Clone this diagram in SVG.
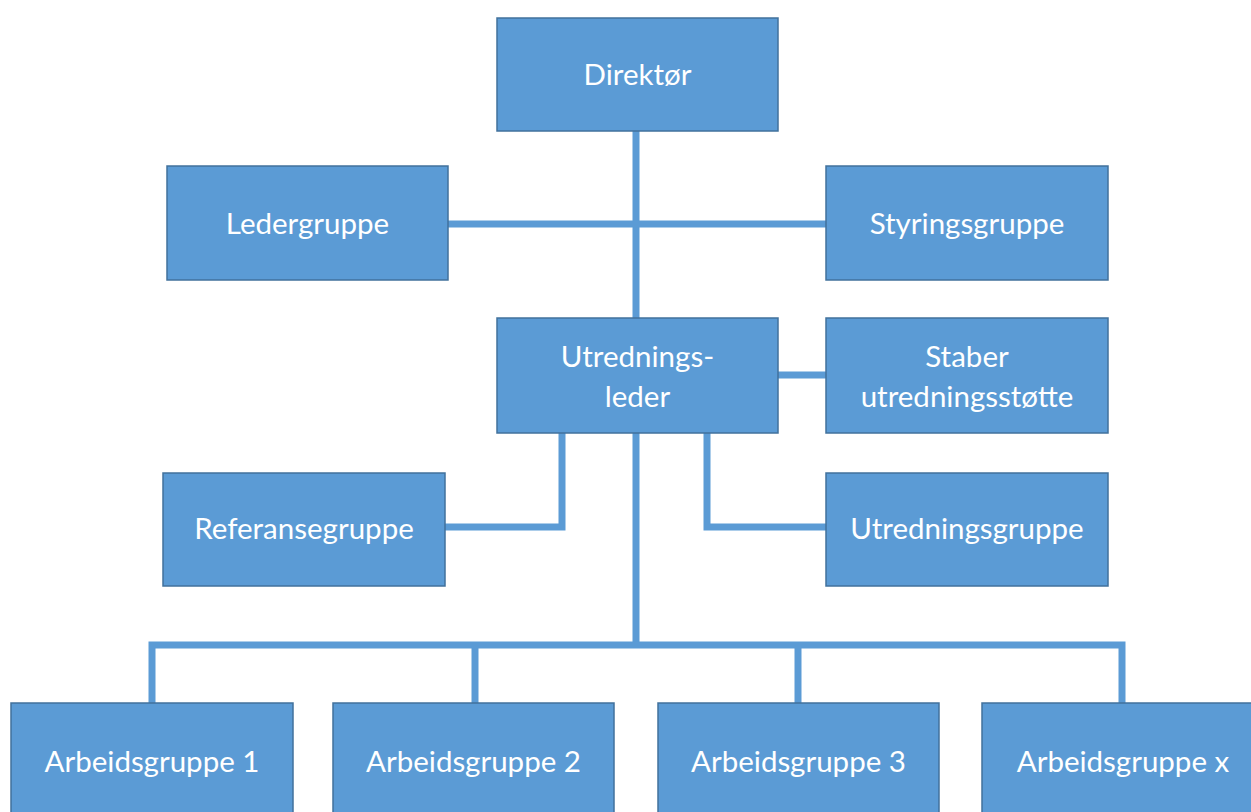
<svg xmlns="http://www.w3.org/2000/svg" width="1251" height="812" viewBox="0 0 1251 812">
<style>
.box{fill:#5B9BD5;stroke:#41719C;stroke-width:1.5}
.lbl{fill:#FFFFFF;font-family:Lato,"Open Sans",sans-serif;font-size:29.5px;text-anchor:middle}
.con{fill:none;stroke:#5B9BD5;stroke-width:7}
</style>
<rect width="1251" height="812" fill="#FFFFFF"/>
<g id="connectors">
<line class="con" x1="636" y1="131" x2="636" y2="318"/>
<line class="con" x1="448" y1="224" x2="826" y2="224"/>
<line class="con" x1="778" y1="375" x2="826" y2="375"/>
<polyline class="con" points="562,433 562,527 445,527"/>
<polyline class="con" points="707,433 707,527 826,527"/>
<line class="con" x1="636" y1="433" x2="636" y2="645"/>
<polyline class="con" points="152,703 152,645 1122,645 1122,703"/>
<line class="con" x1="475" y1="645" x2="475" y2="703"/>
<line class="con" x1="798" y1="645" x2="798" y2="703"/>
</g>
<g id="direktor"><rect class="box" x="497" y="18" width="281" height="113"/><text class="lbl" x="637.5" y="85">Direktør</text></g>
<g id="ledergruppe"><rect class="box" x="167" y="166" width="281" height="114"/><text class="lbl" x="307.5" y="234">Ledergruppe</text></g>
<g id="styringsgruppe"><rect class="box" x="826" y="166" width="282" height="114"/><text class="lbl" x="967" y="234">Styringsgruppe</text></g>
<g id="utredningsleder"><rect class="box" x="497" y="318" width="281" height="115"/><text class="lbl" x="637.5" y="367">Utrednings-</text><text class="lbl" x="637.5" y="407">leder</text></g>
<g id="staber"><rect class="box" x="826" y="318" width="282" height="115"/><text class="lbl" x="967" y="367">Staber</text><text class="lbl" x="967" y="407">utredningsstøtte</text></g>
<g id="referansegruppe"><rect class="box" x="163" y="473" width="282" height="113"/><text class="lbl" x="304" y="539">Referansegruppe</text></g>
<g id="utredningsgruppe"><rect class="box" x="826" y="473" width="282" height="113"/><text class="lbl" x="967" y="539">Utredningsgruppe</text></g>
<g id="arbeidsgruppe1"><rect class="box" x="11" y="703" width="282" height="120"/><text class="lbl" x="152" y="772">Arbeidsgruppe 1</text></g>
<g id="arbeidsgruppe2"><rect class="box" x="333" y="703" width="281" height="120"/><text class="lbl" x="473.5" y="772">Arbeidsgruppe 2</text></g>
<g id="arbeidsgruppe3"><rect class="box" x="658" y="703" width="281" height="120"/><text class="lbl" x="798.5" y="772">Arbeidsgruppe 3</text></g>
<g id="arbeidsgruppex"><rect class="box" x="982" y="703" width="282" height="120"/><text class="lbl" x="1123" y="772">Arbeidsgruppe x</text></g>
</svg>
